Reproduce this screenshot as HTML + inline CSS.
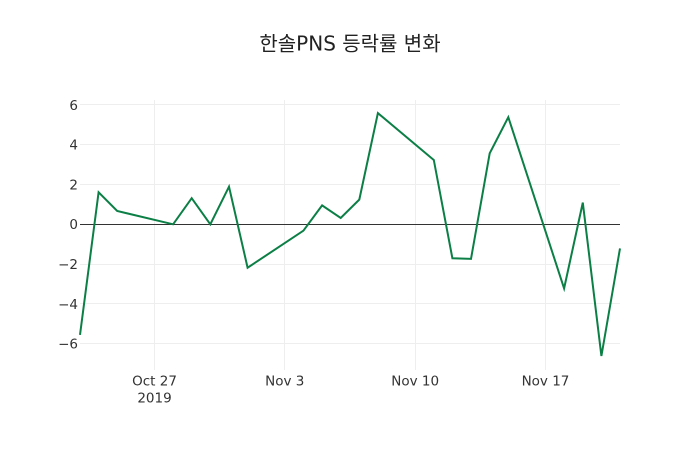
<!DOCTYPE html>
<html>
<head>
<meta charset="utf-8">
<style>
html,body{margin:0;padding:0;background:#fff;}
svg{display:block;}
text{font-family:"DejaVu Sans","Noto Sans CJK KR",sans-serif;fill:#333;}
</style>
</head>
<body>
<svg width="700" height="450" viewBox="0 0 700 450" xmlns="http://www.w3.org/2000/svg">
<rect x="0" y="0" width="700" height="450" fill="#fff"/>
<!-- vertical grid -->
<g stroke="#eeeeee" stroke-width="1">
<line x1="154.5" y1="100" x2="154.5" y2="370"/>
<line x1="284.5" y1="100" x2="284.5" y2="370"/>
<line x1="415.5" y1="100" x2="415.5" y2="370"/>
<line x1="545.5" y1="100" x2="545.5" y2="370"/>
<!-- horizontal grid -->
<line x1="80" y1="104.5" x2="620" y2="104.5"/>
<line x1="80" y1="144.5" x2="620" y2="144.5"/>
<line x1="80" y1="184.5" x2="620" y2="184.5"/>
<line x1="80" y1="264.5" x2="620" y2="264.5"/>
<line x1="80" y1="303.5" x2="620" y2="303.5"/>
<line x1="80" y1="343.5" x2="620" y2="343.5"/>
</g>
<line x1="80" y1="224.5" x2="620" y2="224.5" stroke="#333" stroke-width="1"/>
<polyline fill="none" stroke="#0b7f45" stroke-width="2" stroke-linejoin="miter"
points="80,334.9 98.6,192.3 117.2,211 173.1,224.3 191.7,198.2 210.3,224.3 229,186.7 247.6,267.7 303.4,230.7 322.1,205.4 340.7,218 359.3,199.6 377.9,113.1 433.8,160 452.4,258.3 471,258.9 489.7,153.3 508.3,117.2 564.1,288.4 582.8,202.6 601.4,356 620,248.4"/>
<!-- y tick labels -->
<g font-size="13.5" text-anchor="end">
<text x="78" y="109.8">6</text>
<text x="78" y="149.6">4</text>
<text x="78" y="189.4">2</text>
<text x="78" y="229.2">0</text>
<text x="78" y="269">−2</text>
<text x="78" y="308.8">−4</text>
<text x="78" y="348.6">−6</text>
</g>
<!-- x tick labels -->
<g font-size="13.5" text-anchor="middle">
<text x="154.5" y="385.3">Oct 27</text>
<text x="154.5" y="402.5">2019</text>
<text x="284.8" y="385.3">Nov 3</text>
<text x="415.2" y="385.3">Nov 10</text>
<text x="545.5" y="385.3">Nov 17</text>
</g>
<text x="350" y="50.5" font-size="20" text-anchor="middle" style="fill:#222">한솔PNS 등락률 변화</text>
</svg>
</body>
</html>
